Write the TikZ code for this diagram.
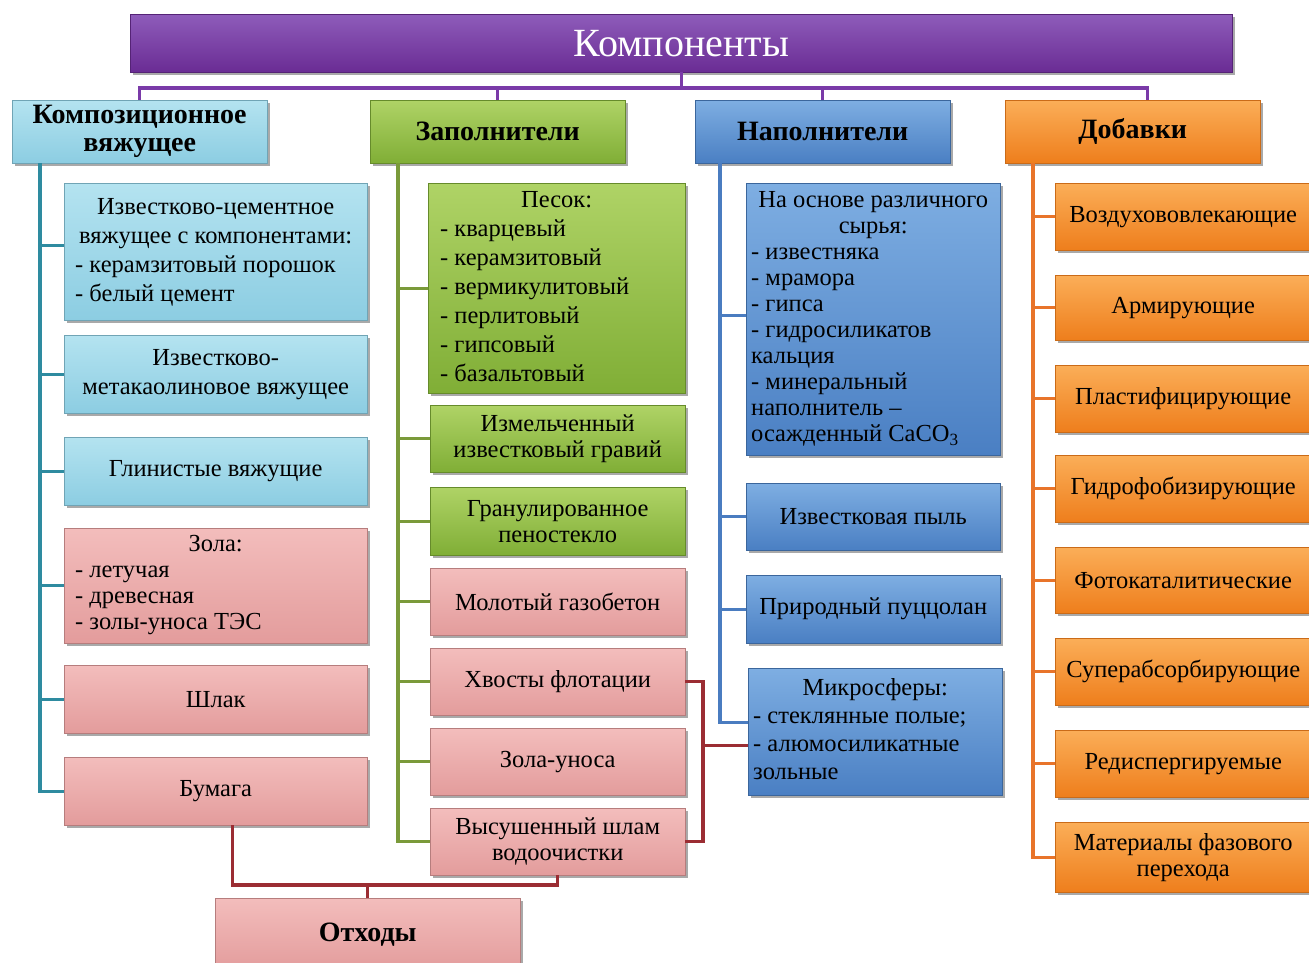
\documentclass[tikz,border=0pt]{standalone}
\usepackage{fontspec}
\setmainfont{Liberation Serif}
\usetikzlibrary{shadows}
\definecolor{puT}{HTML}{8E5CBA}\definecolor{puB}{HTML}{6A2C94}\definecolor{puL}{HTML}{7A3AA8}
\definecolor{cyT}{HTML}{B4E3F0}\definecolor{cyB}{HTML}{8CCDE2}\definecolor{cyL}{HTML}{2E8BA0}
\definecolor{grT}{HTML}{AFD366}\definecolor{grB}{HTML}{80AE36}\definecolor{grL}{HTML}{7A9A3A}
\definecolor{blT}{HTML}{7EAEE2}\definecolor{blB}{HTML}{4A7FC3}\definecolor{blL}{HTML}{4A7CC0}
\definecolor{orT}{HTML}{FBAE58}\definecolor{orB}{HTML}{EE7E1C}\definecolor{orL}{HTML}{E8742A}
\definecolor{pkT}{HTML}{F3BDBC}\definecolor{pkB}{HTML}{E39C9C}\definecolor{rdL}{HTML}{9B2D33}
\newcommand\mylist[2]{\begin{tabular}{@{}p{#1}@{}}#2\end{tabular}}
\newcommand\mycenter[1]{\multicolumn{1}{@{}c@{}}{#1}}
\begin{document}
\begin{tikzpicture}[x=1pt,y=-1pt,
  bx/.style={rectangle, inner sep=0pt, anchor=north west, align=center,
    drop shadow={shadow xshift=3pt, shadow yshift=-3pt, opacity=0.45, fill=black!75},
    font=\fontsize{24.5}{29}\selectfont, text=black},
  tight/.style={font=\fontsize{24.5}{26}\selectfont},
  hd/.style={font=\fontsize{28}{28}\selectfont\bfseries},
  cybox/.style={top color=cyT, bottom color=cyB, draw=cyB!80!black},
  grbox/.style={top color=grT, bottom color=grB, draw=grB!80!black},
  blbox/.style={top color=blT, bottom color=blB, draw=blB!80!black},
  orbox/.style={top color=orT, bottom color=orB, draw=orB!85!black},
  pkbox/.style={top color=pkT, bottom color=pkB, draw=pkB!80!black},
  conn/.style={line width=3.4pt, line join=miter},
  pu/.style={conn, draw=puL}, cy/.style={conn, draw=cyL}, gr/.style={conn, draw=grL},
  bl/.style={conn, draw=blL}, or/.style={conn, draw=orL}, rd/.style={conn, draw=rdL}]
\useasboundingbox (0,0) rectangle (1309,962);
% title
\node[bx, top color=puT, bottom color=puB, draw=puB!80!black, minimum width=1102pt, minimum height=58pt,
  text=white, font=\fontsize{40}{42}\selectfont] (title) at (130,14) {Компоненты};
% headers
\node[bx, cybox, hd, minimum width=255pt, minimum height=63pt] (h1) at (12,100) {Композиционное\\вяжущее};
\node[bx, grbox, hd, minimum width=255pt, minimum height=63pt] (h2) at (370,100) {Заполнители};
\node[bx, blbox, hd, minimum width=255pt, minimum height=63pt] (h3) at (695,100) {Наполнители};
\node[bx, orbox, hd, minimum width=255pt, minimum height=63pt] (h4) at (1005,100) {Добавки};
% column 1
\node[bx, cybox, minimum width=303pt, minimum height=137pt] (a1) at (64,183)
  {\mylist{281pt}{\mycenter{Известково-цементное}\\ \mycenter{вяжущее с компонентами:}\\- керамзитовый порошок\\- белый цемент}};
\node[bx, cybox, minimum width=303pt, minimum height=78pt] (a2) at (64,335) {Известково-\\метакаолиновое вяжущее};
\node[bx, cybox, minimum width=303pt, minimum height=68pt] (a3) at (64,437) {Глинистые вяжущие};
\node[bx, pkbox, tight, minimum width=303pt, minimum height=115pt] (a4) at (64,528)
  {\mylist{281pt}{\mycenter{Зола:}\\- летучая\\- древесная\\- золы-уноса ТЭС}};
\node[bx, pkbox, minimum width=303pt, minimum height=68pt] (a5) at (64,665) {Шлак};
\node[bx, pkbox, minimum width=303pt, minimum height=68pt] (a6) at (64,757) {Бумага};
% column 2
\node[bx, grbox, minimum width=257pt, minimum height=210pt] (b1) at (428,183)
  {\mylist{233pt}{\mycenter{Песок:}\\- кварцевый\\- керамзитовый\\- вермикулитовый\\- перлитовый\\- гипсовый\\- базальтовый}};
\node[bx, grbox, tight, minimum width=255pt, minimum height=67pt] (b2) at (430,405) {Измельченный\\известковый гравий};
\node[bx, grbox, tight, minimum width=255pt, minimum height=68pt] (b3) at (430,487) {Гранулированное\\пеностекло};
\node[bx, pkbox, minimum width=255pt, minimum height=67pt] (b4) at (430,568) {Молотый газобетон};
\node[bx, pkbox, minimum width=255pt, minimum height=67pt] (b5) at (430,648) {Хвосты флотации};
\node[bx, pkbox, minimum width=255pt, minimum height=67pt] (b6) at (430,728) {Зола-уноса};
\node[bx, pkbox, tight, minimum width=255pt, minimum height=67pt] (b7) at (430,808) {Высушенный шлам\\водоочистки};
% column 3
\node[bx, blbox, tight, minimum width=254pt, minimum height=272pt] (c1) at (746,183)
  {\mylist{244pt}{\mycenter{На основе различного}\\ \mycenter{сырья:}\\- известняка\\- мрамора\\- гипса\\- гидросиликатов\\кальция\\- минеральный\\наполнитель –\\осажденный CaCO\textsubscript{3}}};
\node[bx, blbox, minimum width=254pt, minimum height=67pt] (c2) at (746,483) {Известковая пыль};
\node[bx, blbox, minimum width=254pt, minimum height=68pt] (c3) at (746,575) {Природный пуццолан};
\node[bx, blbox, font=\fontsize{24.5}{28}\selectfont, minimum width=254pt, minimum height=127pt] (c4) at (748,668)
  {\mylist{244pt}{\mycenter{Микросферы:}\\- стеклянные полые;\\- алюмосиликатные\\зольные}};
% column 4
\node[bx, orbox, minimum width=256pt, minimum height=67pt] (d1) at (1055,183) {Воздухововлекающие};
\node[bx, orbox, minimum width=256pt, minimum height=65pt] (d2) at (1055,275) {Армирующие};
\node[bx, orbox, minimum width=256pt, minimum height=67pt] (d3) at (1055,365) {Пластифицирующие};
\node[bx, orbox, minimum width=256pt, minimum height=67pt] (d4) at (1055,455) {Гидрофобизирующие};
\node[bx, orbox, minimum width=256pt, minimum height=66pt] (d5) at (1055,547) {Фотокаталитические};
\node[bx, orbox, minimum width=256pt, minimum height=67pt] (d6) at (1055,638) {Суперабсорбирующие};
\node[bx, orbox, minimum width=256pt, minimum height=67pt] (d7) at (1055,730) {Редиспергируемые};
\node[bx, orbox, tight, minimum width=256pt, minimum height=70pt] (d8) at (1055,822) {Материалы фазового\\перехода};
% waste
\node[bx, pkbox, hd, minimum width=305pt, minimum height=72pt] (otx) at (215,898) {Отходы};
% trunk coordinates
\coordinate (t1) at (40,0);
\coordinate (t2) at (398,0);
\coordinate (t3) at (720,0);
\coordinate (t4) at (1033,0);
\coordinate (tb) at (0,88);
\coordinate (rv) at (703,0);
\coordinate (rh) at (0,885);
% top connectors
\draw[pu] (title.south) -- (title.south |- tb);
\draw[pu] (h1.north) -- (h1.north |- tb) -- ([xshift=15pt]h4.north |- tb) -- ([xshift=15pt]h4.north);
\draw[pu] (h2.north) -- (h2.north |- tb);
\draw[pu] (h3.north) -- (h3.north |- tb);
% column 1
\draw[cy] (h1.south -| t1) -- (a6.west -| t1) -- (a6.west);
\draw[cy] ([yshift=6pt]a1.west -| t1) -- ([yshift=6pt]a1.west);
\foreach \n in {a2,a3,a4,a5} \draw[cy] (\n.west -| t1) -- (\n.west);
% column 2
\draw[gr] (h2.south -| t2) |- (b7.west);
\foreach \n in {b1,b2,b3,b4,b5,b6} \draw[gr] (\n.west -| t2) -- (\n.west);
% column 3
\draw[bl] (h3.south -| t3) |- ([yshift=9pt]c4.west);
\draw[bl] ([yshift=4pt]c1.west -| t3) -- ([yshift=4pt]c1.west);
\foreach \n in {c2,c3} \draw[bl] (\n.west -| t3) -- (\n.west);
% column 4
\draw[or] (h4.south -| t4) |- (d8.west);
\foreach \n in {d1,d2,d3,d4,d5,d6,d7} \draw[or] (\n.west -| t4) -- (\n.west);
% waste connectors
\draw[rd] (b5.east) -- (b5.east -| rv) -- (b7.east -| rv) -- (b7.east);
\draw[rd] ([yshift=-14pt]c4.west -| rv) -- ([yshift=-14pt]c4.west);
\draw[rd] ([xshift=17pt]a6.south) |- (b7.south |- rh) -- (b7.south);
\draw[rd] (otx.north) -- (otx.north |- rh);
\end{tikzpicture}
\end{document}
